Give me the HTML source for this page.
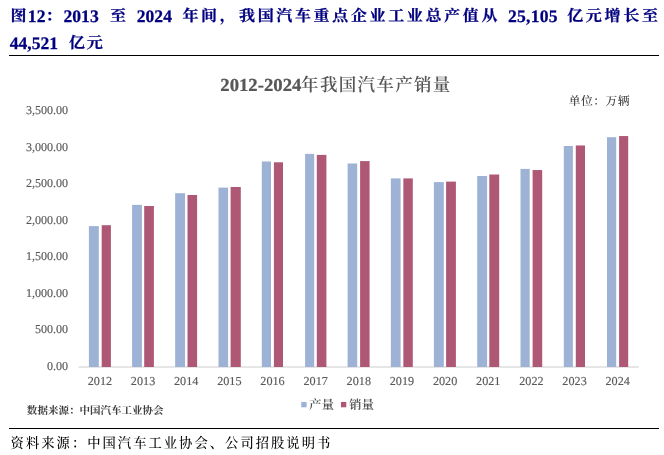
<!DOCTYPE html>
<html lang="zh-CN">
<head>
<meta charset="utf-8">
<title>图12：2013 至 2024 年间，我国汽车重点企业工业总产值</title>
<style>
html,body{margin:0;padding:0;background:#fff;}
body{width:664px;height:455px;position:relative;overflow:hidden;}
svg{position:absolute;left:0;top:0;display:block;}
svg text{font-family:"Liberation Serif","Noto Serif CJK SC",serif;white-space:pre;text-rendering:geometricPrecision;}
</style>
</head>
<body>
<svg width="664" height="455" viewBox="0 0 664 455">
<rect id="rule1" x="9" y="55" width="650" height="1" fill="#000"/>
<rect id="axis" x="78.5" y="366.45" width="560.3" height="1.15" fill="#d4d4d4"/>
<g id="bars">
<rect x="88.90" y="226.10" width="9.90" height="140.90" fill="#9db2d5"/>
<rect x="101.70" y="225.20" width="9.20" height="141.80" fill="#af5876"/>
<rect x="132.10" y="204.90" width="9.80" height="162.10" fill="#9db2d5"/>
<rect x="144.20" y="206.00" width="9.70" height="161.00" fill="#af5876"/>
<rect x="175.16" y="193.20" width="9.89" height="173.80" fill="#9db2d5"/>
<rect x="187.50" y="195.00" width="9.60" height="172.00" fill="#af5876"/>
<rect x="218.50" y="187.60" width="9.60" height="179.40" fill="#9db2d5"/>
<rect x="230.60" y="187.00" width="10.20" height="180.00" fill="#af5876"/>
<rect x="261.80" y="161.50" width="9.20" height="205.50" fill="#9db2d5"/>
<rect x="273.90" y="162.30" width="9.10" height="204.70" fill="#af5876"/>
<rect x="305.10" y="153.90" width="9.10" height="213.10" fill="#9db2d5"/>
<rect x="316.80" y="154.90" width="9.60" height="212.10" fill="#af5876"/>
<rect x="347.60" y="163.50" width="9.60" height="203.50" fill="#9db2d5"/>
<rect x="360.10" y="161.10" width="9.50" height="205.90" fill="#af5876"/>
<rect x="390.85" y="178.40" width="9.75" height="188.60" fill="#9db2d5"/>
<rect x="403.35" y="178.40" width="9.45" height="188.60" fill="#af5876"/>
<rect x="433.90" y="182.10" width="9.90" height="184.90" fill="#9db2d5"/>
<rect x="446.10" y="181.60" width="9.80" height="185.40" fill="#af5876"/>
<rect x="477.20" y="176.00" width="9.90" height="191.00" fill="#9db2d5"/>
<rect x="489.30" y="174.50" width="9.90" height="192.50" fill="#af5876"/>
<rect x="520.50" y="168.90" width="9.20" height="198.10" fill="#9db2d5"/>
<rect x="532.60" y="170.05" width="9.60" height="196.95" fill="#af5876"/>
<rect x="563.80" y="146.00" width="9.10" height="221.00" fill="#9db2d5"/>
<rect x="575.80" y="145.45" width="9.20" height="221.55" fill="#af5876"/>
<rect x="607.00" y="137.20" width="9.20" height="229.80" fill="#9db2d5"/>
<rect x="619.10" y="136.05" width="9.10" height="230.95" fill="#af5876"/>
</g>
<rect id="lg1" x="301.25" y="401.95" width="5.35" height="5.35" fill="#9db2d5"/>
<rect id="lg2" x="340.95" y="401.95" width="5.35" height="5.35" fill="#af5876"/>
<rect id="rule2" x="9" y="428" width="650" height="1" fill="#000"/>
<g id="texts">
<text id="s1" transform="translate(10.52 21.00) scale(1.0 0.97)" style="font-size:16px;fill:#000080;font-weight:700;stroke:#000080;stroke-width:0.25px;">图</text>
<text id="s2" transform="translate(27.87 22.10) scale(1.0 1.0)" style="font-size:17.6px;fill:#000080;font-weight:700;stroke:#000080;stroke-width:0.25px;">12</text>
<text id="s3" transform="translate(45.40 21.00) scale(1.0 0.97)" style="font-size:16px;fill:#000080;font-weight:700;stroke:#000080;stroke-width:0.25px;">：</text>
<text id="s4" transform="translate(63.52 22.10) scale(1.0 1.0)" style="font-size:17.6px;fill:#000080;font-weight:700;stroke:#000080;stroke-width:0.25px;">2013 </text>
<text id="s5" transform="translate(109.89 21.00) scale(1.0 0.97)" style="font-size:16px;fill:#000080;font-weight:700;stroke:#000080;stroke-width:0.25px;">至 </text>
<text id="s6" transform="translate(136.77 22.10) scale(1.0 1.0)" style="font-size:17.6px;fill:#000080;font-weight:700;stroke:#000080;stroke-width:0.25px;">2024 </text>
<text id="s7" transform="translate(182.52 21.00) scale(1.0 0.97)" style="font-size:16px;fill:#000080;font-weight:700;letter-spacing:2.592px;stroke:#000080;stroke-width:0.25px;">年间，</text>
<text id="s8" transform="translate(239.04 21.00) scale(1.0 0.97)" style="font-size:16px;fill:#000080;font-weight:700;letter-spacing:2.646px;stroke:#000080;stroke-width:0.25px;">我国汽车重点企业工业总产值从 </text>
<text id="s9" transform="translate(507.92 22.10) scale(1.0 1.0)" style="font-size:17.6px;fill:#000080;font-weight:700;letter-spacing:0.250px;stroke:#000080;stroke-width:0.25px;">25,105 </text>
<text id="s10" transform="translate(567.13 21.00) scale(1.0 0.97)" style="font-size:16px;fill:#000080;font-weight:700;letter-spacing:2.708px;stroke:#000080;stroke-width:0.25px;">亿元增长至</text>
<text id="s11" transform="translate(9.73 49.00) scale(1.0 1.0)" style="font-size:17.6px;fill:#000080;font-weight:700;stroke:#000080;stroke-width:0.25px;">44,521 </text>
<text id="s12" transform="translate(68.90 47.90) scale(1.0 0.97)" style="font-size:16px;fill:#000080;font-weight:700;letter-spacing:1.751px;stroke:#000080;stroke-width:0.25px;">亿元</text>
<text id="ct1" transform="translate(220.28 91.30) scale(1.0 0.98)" style="font-size:18.722px;fill:#575757;font-weight:700;stroke:#575757;stroke-width:0.25px;">2012-2024</text>
<text id="ct2" transform="translate(301.12 91.10) scale(1.0 1.03)" style="font-size:17.5px;fill:#555555;font-weight:600;letter-spacing:1.310px;">年我国汽车产销量</text>
<text id="unit" transform="translate(568.72 104.70) scale(1.0 1.0)" style="font-size:11.8px;fill:#333;font-weight:500;letter-spacing:0.437px;">单位：万辆</text>
<text id="y0" transform="translate(68.10 370.00) scale(1.0 1.0)" text-anchor="end" style="font-size:12.05px;fill:#595959;stroke:#595959;stroke-width:0.15px;">0.00</text>
<text id="y500" transform="translate(68.10 333.43) scale(1.0 1.0)" text-anchor="end" style="font-size:12.05px;fill:#595959;stroke:#595959;stroke-width:0.15px;">500.00</text>
<text id="y1000" transform="translate(68.10 296.86) scale(1.0 1.0)" text-anchor="end" style="font-size:12.05px;fill:#595959;stroke:#595959;stroke-width:0.15px;">1,000.00</text>
<text id="y1500" transform="translate(68.10 260.29) scale(1.0 1.0)" text-anchor="end" style="font-size:12.05px;fill:#595959;stroke:#595959;stroke-width:0.15px;">1,500.00</text>
<text id="y2000" transform="translate(68.10 223.72) scale(1.0 1.0)" text-anchor="end" style="font-size:12.05px;fill:#595959;stroke:#595959;stroke-width:0.15px;">2,000.00</text>
<text id="y2500" transform="translate(68.10 187.15) scale(1.0 1.0)" text-anchor="end" style="font-size:12.05px;fill:#595959;stroke:#595959;stroke-width:0.15px;">2,500.00</text>
<text id="y3000" transform="translate(68.10 150.58) scale(1.0 1.0)" text-anchor="end" style="font-size:12.05px;fill:#595959;stroke:#595959;stroke-width:0.15px;">3,000.00</text>
<text id="y3500" transform="translate(68.10 114.01) scale(1.0 1.0)" text-anchor="end" style="font-size:12.05px;fill:#595959;stroke:#595959;stroke-width:0.15px;">3,500.00</text>
<text id="x0" transform="translate(99.90 385.00) scale(1.0 1.0)" text-anchor="middle" style="font-size:12.2px;fill:#595959;stroke:#595959;stroke-width:0.15px;">2012</text>
<text id="x1" transform="translate(143.05 385.00) scale(1.0 1.0)" text-anchor="middle" style="font-size:12.2px;fill:#595959;stroke:#595959;stroke-width:0.15px;">2013</text>
<text id="x2" transform="translate(186.20 385.00) scale(1.0 1.0)" text-anchor="middle" style="font-size:12.2px;fill:#595959;stroke:#595959;stroke-width:0.15px;">2014</text>
<text id="x3" transform="translate(229.35 385.00) scale(1.0 1.0)" text-anchor="middle" style="font-size:12.2px;fill:#595959;stroke:#595959;stroke-width:0.15px;">2015</text>
<text id="x4" transform="translate(272.50 385.00) scale(1.0 1.0)" text-anchor="middle" style="font-size:12.2px;fill:#595959;stroke:#595959;stroke-width:0.15px;">2016</text>
<text id="x5" transform="translate(315.65 385.00) scale(1.0 1.0)" text-anchor="middle" style="font-size:12.2px;fill:#595959;stroke:#595959;stroke-width:0.15px;">2017</text>
<text id="x6" transform="translate(358.80 385.00) scale(1.0 1.0)" text-anchor="middle" style="font-size:12.2px;fill:#595959;stroke:#595959;stroke-width:0.15px;">2018</text>
<text id="x7" transform="translate(401.95 385.00) scale(1.0 1.0)" text-anchor="middle" style="font-size:12.2px;fill:#595959;stroke:#595959;stroke-width:0.15px;">2019</text>
<text id="x8" transform="translate(445.10 385.00) scale(1.0 1.0)" text-anchor="middle" style="font-size:12.2px;fill:#595959;stroke:#595959;stroke-width:0.15px;">2020</text>
<text id="x9" transform="translate(488.25 385.00) scale(1.0 1.0)" text-anchor="middle" style="font-size:12.2px;fill:#595959;stroke:#595959;stroke-width:0.15px;">2021</text>
<text id="x10" transform="translate(531.40 385.00) scale(1.0 1.0)" text-anchor="middle" style="font-size:12.2px;fill:#595959;stroke:#595959;stroke-width:0.15px;">2022</text>
<text id="x11" transform="translate(574.55 385.00) scale(1.0 1.0)" text-anchor="middle" style="font-size:12.2px;fill:#595959;stroke:#595959;stroke-width:0.15px;">2023</text>
<text id="x12" transform="translate(617.70 385.00) scale(1.0 1.0)" text-anchor="middle" style="font-size:12.2px;fill:#595959;stroke:#595959;stroke-width:0.15px;">2024</text>
<text id="ds" transform="translate(26.86 414.00) scale(1.0 1.0)" style="font-size:10.5px;fill:#3c3c3c;font-weight:700;letter-spacing:0.018px;">数据来源：中国汽车工业协会</text>
<text id="l1" transform="translate(308.96 409.00) scale(1.0 1.0)" style="font-size:12.5px;fill:#4a4a4a;font-weight:600;">产量</text>
<text id="l2" transform="translate(349.04 409.00) scale(1.0 1.0)" style="font-size:12.5px;fill:#4a4a4a;font-weight:600;">销量</text>
<text id="src" transform="translate(10.61 447.90) scale(1.0 1.08)" style="font-size:13.3px;fill:#000;font-weight:500;letter-spacing:2.021px;">资料来源：中国汽车工业协会、公司招股说明书</text>
</g>
</svg>
</body>
</html>
